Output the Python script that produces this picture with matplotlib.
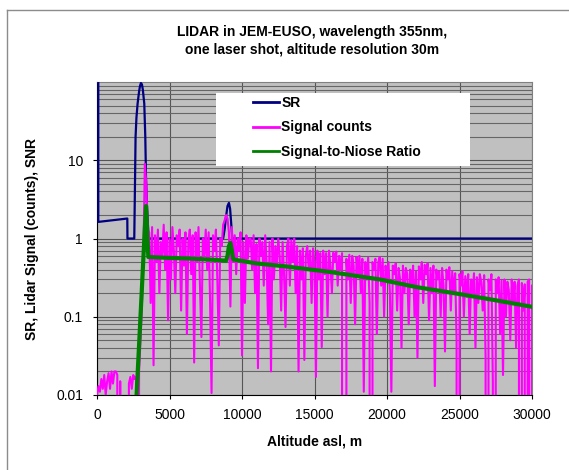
import matplotlib
matplotlib.use("Agg")
import matplotlib.pyplot as plt
from matplotlib.lines import Line2D
from matplotlib.patches import Rectangle
from matplotlib.ticker import LogLocator, NullFormatter, FixedLocator, FixedFormatter
import numpy as np

plt.rcParams['font.family'] = ['Liberation Sans', 'DejaVu Sans']

# scattering ratio (SR)
sr_alt = [90, 90, 2090, 2100, 2570, 2620, 2660, 2720, 2800, 2900, 2960, 3030, 3100, 3160, 3260,
          3330, 3380, 3450, 3560, 8700, 8800, 8900, 9000, 9100, 9180, 9250, 9330, 30000]
sr_val = [200, 1.63, 1.8, 1.0, 1.0, 5.0, 20, 35, 53, 75, 88, 97, 93, 80, 53,
          20, 6, 2.5, 1.0, 1.0, 1.3, 1.9, 2.6, 2.85, 2.4, 1.6, 1.0, 1.0]

# signal-to-noise ratio
snr_alt = [2730, 2900, 3050, 3200, 3300, 3380, 3460, 3540, 5000, 6400, 8000, 8900, 9000,
           9100, 9200, 9300, 9400, 11000, 13000, 16000, 19500, 22000, 25000, 27450, 30000]
snr_val = [0.01, 0.043, 0.155, 0.57, 1.35, 2.6, 1.23, 0.58, 0.565, 0.555, 0.535, 0.52, 0.6,
           0.8, 0.88, 0.7, 0.54, 0.48, 0.44, 0.375, 0.30, 0.24, 0.195, 0.163, 0.134]

# signal counts, one value per 100 m (0 .. 30000 m)
counts_alt = np.arange(0, 30001, 100)
counts_val = [
    0.01, 0.013, 0.011, 0.016, 0.012, 0.018, 0.01, 0.015, 0.019, 0.012,   # 0-900
    0.02, 0.014, 0.02, 0.02, 0.018, 0, 0.015, 0, 0, 0,                     # 1000-1900
    0, 0, 0.014, 0.017, 0.012, 0.018, 0.016, 0.017, 0, 0.02,               # 2000-2900
    0.05, 0.15, 0.6, 9.0, 5.0, 1.2,                                        # 3000-3500
    1.2, 0.15, 1.4, 0.024, 1.1, 0.5, 1.3, 0.2, 0.9, 0.6,                   # 3600-4500
    1.5, 0.4, 1.2, 0.09, 1.0, 0.3, 1.4, 0.7, 0.2, 1.1,
    0.8, 1.3, 0.12, 1.0, 0.45, 1.2, 0.06, 0.9, 1.3, 0.35,
    1.1, 0.026, 1.2, 0.5, 1.4, 0.25, 0.055, 1.0, 0.6, 1.3,
    0.4, 1.2, 0.15, 0.0106, 1.1, 0.7, 1.3, 0.3, 0.043, 1.0,
    0.8, 1.5, 1.7, 2.0, 1.8, 1.2, 0.135, 1.4, 0.5, 1.1,                   # 8600-9500
    0.35, 1.0, 0.7, 1.2, 0.032, 0.9, 0.15, 1.1, 0.55, 1.0,
    1.0, 0.4, 1.1, 0.2, 0.85, 0.022, 1.0, 0.6, 0.9, 0.25,                 # 10600-11500
    1.1, 0.5, 0.08, 0.9, 0.02, 1.0, 0.3, 0.8, 0.45, 1.0,
    0.6, 0.12, 0.9, 0.35, 0.074, 0.8, 1.0, 0.25, 0.95, 0.5,
    1.0, 0.2, 0.8, 0.02, 0.7, 0.3, 0.75, 0.028, 0.6, 0.8,                 # 13600-14500
    0.4, 0.7, 0.15, 0.75, 0.5, 0.017, 0.7, 0.3, 0.65, 0.041,
    0.7, 0.35, 0.65, 0.1, 0.7, 0.45, 0.2, 0.66, 0.5, 0.68,
    0.25, 0.6, 0.4, 0.65, 0, 0, 0.55, 0.3, 0.62, 0.15,                     # 16600-17500
    0.6, 0.45, 0.08, 0.58, 0.35, 0.6, 0.2, 0.55, 0.011, 0.5,
    0.3, 0.57, 0.15, 0, 0.5, 0.4, 0.55, 0.06, 0.5, 0.58,
    0.25, 0.55, 0.1, 0.45, 0.3, 0.5, 0.2, 0.011, 0.45, 0.35,               # 19600-20500
    0.48, 0.12, 0.42, 0.3, 0.04, 0.45, 0.2, 0.42, 0.35, 0.08,
    0.4, 0.25, 0.45, 0.1, 0.38, 0.03, 0.44, 0.3, 0.5, 0.15,
    0.46, 0.35, 0.48, 0.09, 0.42, 0.2, 0.45, 0.013, 0.4, 0.3,              # 22600-23500
    0.38, 0.1, 0.42, 0.25, 0.036, 0.4, 0.3, 0.43, 0.12, 0.38,
    0.2, 0.36, 0.05, 0, 0.35, 0.25, 0.38, 0.1, 0.33, 0.18,
    0.35, 0.06, 0.3, 0.2, 0.36, 0.04, 0.32, 0.15, 0.35, 0.28,              # 25600-26500
    0.12, 0.34, 0.03, 0, 0.3, 0.22, 0.35, 0.015, 0, 0.3,
    0.2, 0.32, 0.06, 0.29, 0.018, 0.3, 0.1, 0.28, 0.22, 0.05,
    0.3, 0.15, 0.28, 0.04, 0.25, 0.3, 0, 0.27, 0.12, 0.26,                 # 28600-29500
    0, 0.28, 0.3, 0, 0.25,                                                 # 29600-30000
]

x_ticks = [0, 5000, 10000, 15000, 20000, 25000, 30000]
y_ticks = [0.01, 0.1, 1, 10]
y_labels = ['0.01', '0.1', '1', '10']

title = "LIDAR in JEM-EUSO, wavelength 355nm,\none laser shot, altitude resolution 30m"
labels = ['SR', 'Signal counts', 'Signal-to-Niose Ratio']

W, H = 569, 470
fig = plt.figure(figsize=(W / 100, H / 100), dpi=100)
ax = fig.add_axes([97 / W, 1 - 395 / H, 435 / W, 313 / H])
ax.set_facecolor('#c0c0c0')

l_sr, = ax.plot(sr_alt, sr_val, color='#000080', lw=1.6, zorder=3)
l_cnt, = ax.plot(counts_alt, counts_val, color='#ff00ff', lw=1.5, zorder=3.1)
l_snr, = ax.plot(snr_alt, snr_val, color='#008000', lw=3, zorder=3.2)

ax.set_yscale('log')
ax.set_xlim(0, 30000)
ax.set_ylim(0.01, 100)
ax.xaxis.set_major_locator(FixedLocator(x_ticks))
ax.yaxis.set_major_locator(FixedLocator(y_ticks))
ax.yaxis.set_major_formatter(FixedFormatter(y_labels))
ax.yaxis.set_minor_locator(LogLocator(base=10, subs=range(2, 10), numticks=20))
ax.yaxis.set_minor_formatter(NullFormatter())

ax.grid(which='major', color='#555555', lw=0.8, zorder=1)
ax.grid(which='minor', axis='y', color='#666666', lw=0.8, zorder=1)
ax.set_axisbelow(True)

ax.tick_params(which='major', direction='out', length=3, width=0.8, labelsize=10, colors='black')
ax.tick_params(axis='x', pad=6.5)
ax.tick_params(axis='y', pad=7)
ax.tick_params(which='minor', length=0)

for s in ['left', 'bottom']:
    ax.spines[s].set_color('black')
    ax.spines[s].set_linewidth(0.8)
for s in ['top', 'right']:
    ax.spines[s].set_color('#808080')
    ax.spines[s].set_linewidth(0.8)

# legend box
ax.add_patch(Rectangle(((216 - 97) / 435, (395 - 166) / 313), (470 - 216) / 435, (166 - 93) / 313,
                       transform=ax.transAxes, facecolor='white', edgecolor='none',
                       zorder=5, clip_on=False))
leg = ax.legend([l_sr, l_cnt, l_snr], labels, loc='upper left',
                bbox_to_anchor=((253 - 97) / 435, (395 - 96) / 313),
                frameon=False, prop={'size': 10, 'weight': 'bold'},
                handlelength=1.9, handletextpad=0.15, labelspacing=0.75,
                borderpad=0, borderaxespad=0)
leg.set_zorder(6)
for h in leg.legend_handles:
    h.set_linewidth(2)

fig.text(312 / W, 1 - 41 / H, title, ha='center', va='center',
         fontsize=10, fontweight='bold', linespacing=1.35)
fig.text(314.5 / W, 1 - 441 / H, 'Altitude asl, m', ha='center', va='center',
         fontsize=10, fontweight='bold')
fig.text(32 / W, 1 - 238.5 / H, 'SR, Lidar Signal (counts), SNR', ha='center', va='center',
         rotation=90, fontsize=10, fontweight='bold')

# outer chart frame
fig.add_artist(Line2D([7 / W, 1], [1 - 10 / H, 1 - 10 / H], color='#8c8c8c', lw=1))
fig.add_artist(Line2D([7 / W, 7 / W], [0, 1 - 10 / H], color='#8c8c8c', lw=1))

fig.savefig('out.png', dpi=100)
